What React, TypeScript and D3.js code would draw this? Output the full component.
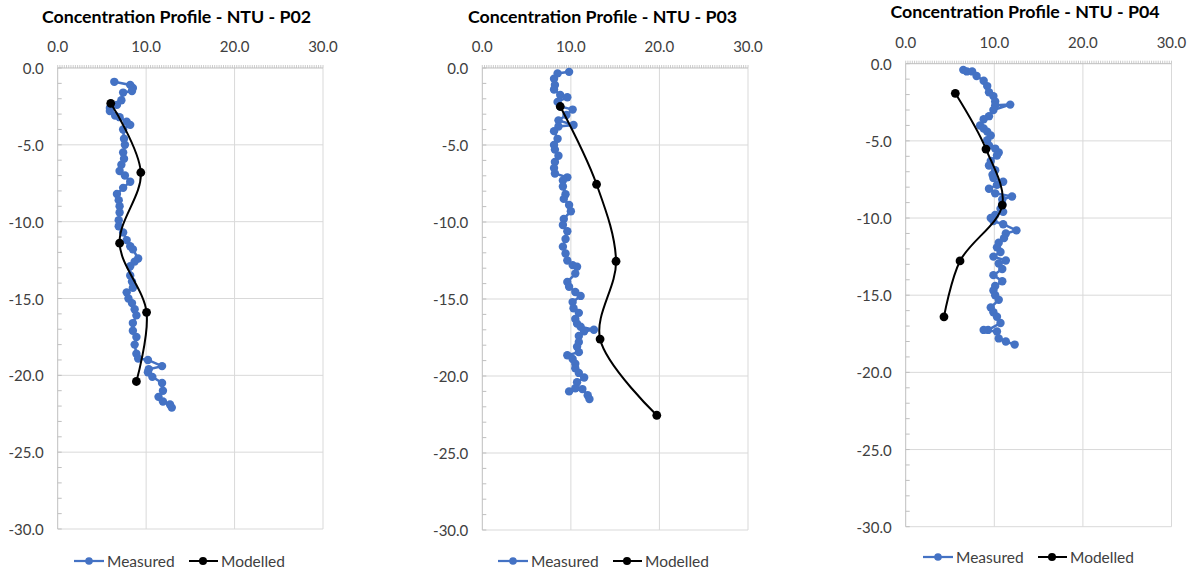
import React from "react";
import * as d3 from "d3";

// ---------- DATA (concentration NTU, depth) ----------
const p02MeasuredConc = [6.4, 8.2, 8.5, 8.4, 7.4, 7.2, 6.7, 5.9, 5.9, 6.5, 7.0, 7.8, 8.2, 7.4, 7.5, 7.6, 7.4, 7.5, 7.2, 7.0, 7.6, 8.2, 7.4, 6.7, 6.9, 7.0, 7.0, 6.9, 6.9, 7.4, 7.8, 8.2, 8.5, 9.1, 8.7, 8.2, 8.2, 8.4, 8.5, 7.8, 8.0, 8.4, 8.7, 8.9, 8.5, 8.5, 8.9, 8.7, 8.9, 9.1, 10.2, 11.8, 10.3, 10.2, 10.7, 11.8, 11.9, 11.4, 11.9, 12.7, 12.9];
const p02MeasuredDepth = [-0.9, -1.1, -1.3, -1.5, -1.6, -2.1, -2.4, -2.6, -2.8, -3.1, -3.2, -3.5, -3.7, -4.0, -4.6, -5.0, -5.5, -5.9, -6.3, -6.7, -7.0, -7.4, -7.8, -8.2, -8.6, -9.0, -9.4, -9.9, -10.3, -10.7, -11.2, -11.6, -11.8, -12.4, -12.6, -12.9, -13.5, -13.9, -14.3, -14.6, -15.0, -15.3, -15.7, -16.1, -16.6, -17.1, -17.5, -18.0, -18.6, -18.9, -19.0, -19.4, -19.6, -19.8, -20.1, -20.5, -21.0, -21.4, -21.7, -21.9, -22.1];
const p02ModelConc = [6.0, 9.4, 7.0, 10.05, 8.9];
const p02ModelDepth = [-2.3, -6.8, -11.4, -15.9, -20.4];

const p03MeasuredConc = [9.8, 8.5, 8.1, 8.2, 8.1, 8.8, 9.6, 8.5, 8.8, 10.2, 9.5, 8.6, 10.3, 8.6, 8.1, 8.5, 8.1, 8.2, 8.6, 8.2, 8.1, 8.2, 9.6, 9.1, 9.1, 9.4, 9.2, 9.8, 10.0, 9.2, 9.1, 9.6, 9.4, 9.1, 9.4, 9.6, 10.2, 10.7, 10.5, 9.6, 9.8, 10.5, 11.1, 10.2, 10.3, 10.9, 10.5, 10.7, 11.1, 12.6, 11.5, 10.9, 10.9, 10.7, 10.9, 9.6, 10.2, 10.5, 10.5, 10.9, 11.5, 10.7, 10.5, 9.8, 11.3, 11.9, 12.1];
const p03MeasuredDepth = [-0.25, -0.35, -0.7, -1.1, -1.4, -1.75, -1.9, -2.2, -2.5, -2.7, -3.05, -3.4, -3.7, -3.8, -4.1, -4.6, -5.0, -5.3, -5.7, -6.1, -6.5, -6.85, -7.1, -7.3, -7.7, -8.2, -8.5, -8.9, -9.3, -9.8, -10.2, -10.6, -11.1, -11.6, -12.05, -12.5, -12.8, -12.9, -13.35, -13.9, -14.2, -14.55, -14.8, -15.2, -15.6, -15.9, -16.3, -16.6, -16.8, -17.0, -17.1, -17.4, -17.8, -18.1, -18.45, -18.65, -18.9, -19.2, -19.5, -19.8, -20.1, -20.4, -20.8, -21.0, -20.85, -21.25, -21.5];
const p03ModelConc = [8.8, 12.9, 15.1, 13.3, 19.7];
const p03ModelDepth = [-2.5, -7.55, -12.55, -17.6, -22.55];

const p04MeasuredConc = [6.5, 6.9, 7.5, 8.0, 8.8, 9.2, 9.4, 9.9, 10.1, 10.1, 11.8, 9.9, 9.4, 8.8, 8.4, 8.8, 9.2, 9.6, 9.2, 9.4, 10.1, 10.5, 10.3, 9.6, 9.4, 10.1, 9.8, 9.9, 11.0, 10.3, 9.4, 10.1, 12.0, 10.9, 10.9, 10.7, 11.0, 10.1, 9.6, 9.9, 11.0, 12.5, 11.3, 11.1, 10.5, 10.3, 10.7, 9.9, 11.3, 10.5, 10.9, 9.9, 10.9, 10.1, 9.9, 10.1, 10.5, 9.6, 9.9, 10.3, 10.7, 9.3, 8.8, 10.3, 10.5, 11.3, 12.3];
const p04MeasuredDepth = [-0.4, -0.5, -0.5, -0.8, -1.1, -1.45, -1.85, -2.1, -2.45, -2.7, -2.65, -3.0, -3.4, -3.6, -4.0, -4.2, -4.4, -4.65, -4.95, -5.3, -5.5, -5.75, -5.95, -6.3, -6.6, -6.9, -7.2, -7.4, -7.65, -7.85, -8.1, -8.4, -8.6, -8.8, -9.1, -9.4, -9.6, -9.8, -10.0, -10.2, -10.4, -10.8, -11.0, -11.3, -11.6, -11.9, -12.2, -12.5, -12.75, -12.95, -13.3, -13.7, -14.1, -14.4, -14.7, -15.0, -15.3, -15.8, -16.1, -16.4, -16.8, -17.25, -17.25, -17.35, -17.8, -18.0, -18.2];
const p04ModelConc = [5.6, 9.06, 10.9, 6.13, 4.32];
const p04ModelDepth = [-1.92, -5.53, -9.16, -12.78, -16.4];

const xTicks = [0, 10, 20, 30];
const yTicks = [0, -5, -10, -15, -20, -25, -30];
const titles = ["Concentration Profile - NTU - P02", "Concentration Profile - NTU - P03", "Concentration Profile - NTU - P04"];
const seriesNames = ["Measured", "Modelled"];

const BLUE = "#4472C4";
const FONT = "Lato, 'Open Sans', sans-serif";

type Panel = {
  title: string;
  mc: number[]; md: number[]; oc: number[]; od: number[];
  x0: number; x1: number; y0: number; y1: number;
  titleX: number; titleY: number; legendY: number; legendX: number;
};

const panels: Panel[] = [
  { title: titles[0], mc: p02MeasuredConc, md: p02MeasuredDepth, oc: p02ModelConc, od: p02ModelDepth,
    x0: 57.7, x1: 323, y0: 68, y1: 529, titleX: 176.5, titleY: 23, legendY: 561, legendX: 74 },
  { title: titles[1], mc: p03MeasuredConc, md: p03MeasuredDepth, oc: p03ModelConc, od: p03ModelDepth,
    x0: 482.3, x1: 748, y0: 68, y1: 530, titleX: 602.5, titleY: 23, legendY: 561, legendX: 498 },
  { title: titles[2], mc: p04MeasuredConc, md: p04MeasuredDepth, oc: p04ModelConc, od: p04ModelDepth,
    x0: 905.7, x1: 1171.5, y0: 63.7, y1: 526.7, titleX: 1025, titleY: 18, legendY: 557, legendX: 923 },
];

function ChartPanel({ p }: { p: Panel }) {
  const x = d3.scaleLinear().domain([0, 30]).range([p.x0, p.x1]);
  const y = d3.scaleLinear().domain([0, -30]).range([p.y0, p.y1]);
  const measured = p.mc.map((c, i) => [x(c), y(p.md[i])] as [number, number]);
  const modelled = p.oc.map((c, i) => [x(c), y(p.od[i])] as [number, number]);
  const lin = d3.line().curve(d3.curveLinear);
  const smooth = d3.line().curve(d3.curveCatmullRom.alpha(0.5));
  const minorX = d3.range(0, 30.001, 0.25);
  const minorY = d3.range(0, -30.001, -1);
  const gridC = "#d9d9d9";
  const axisC = "#bfbfbf";
  return (
    <g>
      <text x={p.titleX} y={p.titleY} textAnchor="middle" fontFamily={FONT} fontWeight="bold" fontSize={17.8} fill="#000">{p.title}</text>
      {/* gridlines */}
      {xTicks.slice(1).map((t) => (
        <line key={"gx" + t} x1={x(t)} x2={x(t)} y1={p.y0} y2={p.y1} stroke={gridC} strokeWidth={1} />
      ))}
      {yTicks.slice(1).map((t) => (
        <line key={"gy" + t} x1={p.x0} x2={p.x1} y1={y(t)} y2={y(t)} stroke={gridC} strokeWidth={1} />
      ))}
      {/* axes */}
      <line x1={p.x0} x2={p.x1} y1={p.y0} y2={p.y0} stroke={axisC} strokeWidth={1} />
      <line x1={p.x0} x2={p.x0} y1={p.y0} y2={p.y1} stroke={axisC} strokeWidth={1} />
      {minorX.map((t, i) => (
        <line key={"mx" + i} x1={x(t)} x2={x(t)} y1={p.y0 - 3} y2={p.y0} stroke={axisC} strokeWidth={0.8} />
      ))}
      {minorY.map((t, i) => (
        <line key={"my" + i} x1={p.x0} x2={p.x0 + 4} y1={y(t)} y2={y(t)} stroke={axisC} strokeWidth={1} />
      ))}
      {xTicks.map((t) => (
        <text key={"tx" + t} x={x(t)} y={p.y0 - 22} textAnchor="middle" dominantBaseline="central" fontFamily={FONT} fontSize={15} fill="#404040">{t.toFixed(1)}</text>
      ))}
      {yTicks.map((t) => (
        <text key={"ty" + t} x={p.x0 - 14} y={y(t)} textAnchor="end" dominantBaseline="central" fontFamily={FONT} fontSize={15} fill="#404040">{t.toFixed(1)}</text>
      ))}
      {/* measured */}
      <path d={lin(measured) || ""} fill="none" stroke={BLUE} strokeWidth={2.5} />
      {measured.map((m, i) => (
        <circle key={"m" + i} cx={m[0]} cy={m[1]} r={4.2} fill={BLUE} />
      ))}
      {/* modelled */}
      <path d={smooth(modelled) || ""} fill="none" stroke="#000" strokeWidth={2} />
      {modelled.map((m, i) => (
        <circle key={"o" + i} cx={m[0]} cy={m[1]} r={4.4} fill="#000" />
      ))}
      {/* legend */}
      <g>
        <line x1={p.legendX} x2={p.legendX + 30} y1={p.legendY} y2={p.legendY} stroke={BLUE} strokeWidth={2.25} />
        <circle cx={p.legendX + 15} cy={p.legendY} r={3.8} fill={BLUE} />
        <text x={p.legendX + 33} y={p.legendY} dominantBaseline="central" fontFamily={FONT} fontSize={15.5} fill="#404040">{seriesNames[0]}</text>
        <line x1={p.legendX + 115} x2={p.legendX + 144} y1={p.legendY} y2={p.legendY} stroke="#000" strokeWidth={2} />
        <circle cx={p.legendX + 129} cy={p.legendY} r={4} fill="#000" />
        <text x={p.legendX + 147} y={p.legendY} dominantBaseline="central" fontFamily={FONT} fontSize={15.5} fill="#404040">{seriesNames[1]}</text>
      </g>
    </g>
  );
}

export default function App() {
  return (
    <svg width={1197} height={577} style={{ position: "absolute", left: 0, top: 0, background: "#fff" }}>
      <rect x={0} y={0} width={1197} height={577} fill="#fff" />
      {panels.map((p, i) => (
        <ChartPanel key={i} p={p} />
      ))}
    </svg>
  );
}
